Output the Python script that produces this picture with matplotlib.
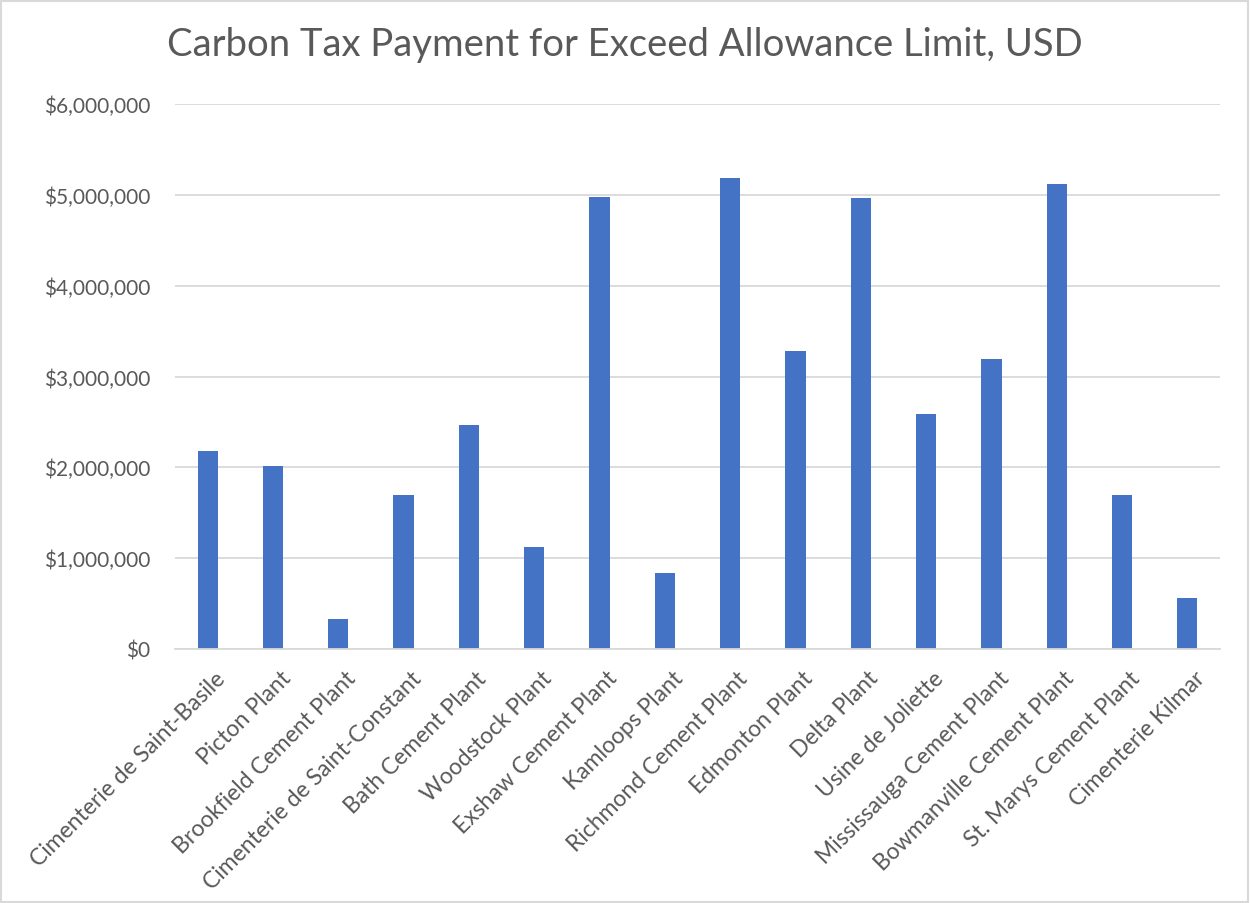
import matplotlib.pyplot as plt
from matplotlib.ticker import FuncFormatter
from matplotlib.patches import Rectangle
from matplotlib.transforms import ScaledTranslation

plants = ["Cimenterie de Saint-Basile", "Picton Plant", "Brookfield Cement Plant",
          "Cimenterie de Saint-Constant", "Bath Cement Plant", "Woodstock Plant",
          "Exshaw Cement Plant", "Kamloops Plant", "Richmond Cement Plant",
          "Edmonton Plant", "Delta Plant", "Usine de Joliette",
          "Mississauga Cement Plant", "Bowmanville Cement Plant",
          "St. Marys Cement Plant", "Cimenterie Kilmar"]
tax_usd = [2180000, 2020000, 330000, 1700000, 2470000, 1120000,
           4980000, 840000, 5190000, 3280000, 4960000, 2590000,
           3190000, 5120000, 1700000, 560000]

plt.rcParams['font.family'] = ['Lato', 'DejaVu Sans']
text_col = '#595959'
grid_col = '#D9D9D9'

fig = plt.figure(figsize=(12.5, 9.04), dpi=100)
ax = fig.add_axes([175/1250, 1 - 650/904, (1220-175)/1250, (650-105)/904])

ax.bar(range(len(plants)), tax_usd, width=0.31, color='#4472C4', zorder=3)

ax.set_xlim(-0.5, len(plants) - 0.5)
ax.set_ylim(0, 6000000)
ax.set_yticks(range(0, 6000001, 1000000))
ax.yaxis.set_major_formatter(FuncFormatter(lambda v, p: f"${v:,.0f}"))
ax.grid(axis='y', color=grid_col, linewidth=1.3, zorder=0)
for s in ['top', 'right', 'left']:
    ax.spines[s].set_visible(False)
ax.spines['bottom'].set_color(grid_col)
ax.spines['bottom'].set_linewidth(1.3)
ax.spines['bottom'].set_zorder(4)
ax.tick_params(axis='both', length=0, colors=text_col)
ax.tick_params(axis='y', labelsize=15, pad=18)
ax.set_xticks(range(len(plants)))
ax.set_xticklabels(plants, rotation=45, ha='right', rotation_mode='anchor')
ax.tick_params(axis='x', labelsize=16.5, pad=13)
# Excel puts the label end a little right of the bar centre
shift = ScaledTranslation(7/100, 0, fig.dpi_scale_trans)
for lbl in ax.get_xticklabels():
    lbl.set_transform(lbl.get_transform() + shift)

fig.text(625/1250, 1 - 45/904, "Carbon Tax Payment for Exceed Allowance Limit, USD",
         ha='center', va='center', fontsize=27.5, color=text_col)

fig.patches.append(Rectangle((0.001, 0.001), 0.997, 0.997, transform=fig.transFigure,
                             fill=False, edgecolor=grid_col, linewidth=1.5))

fig.savefig('out.png', dpi=100)
